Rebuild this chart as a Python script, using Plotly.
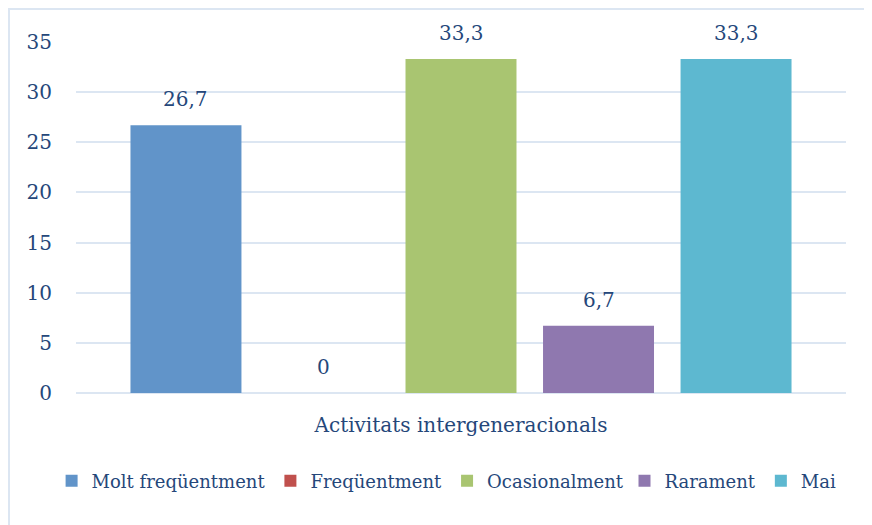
import plotly.graph_objects as go

category = ["Activitats intergeneracionals"]
series_names = ["Molt freqüentment", "Freqüentment", "Ocasionalment", "Rarament", "Mai"]
series_values = [26.7, 0, 33.3, 6.7, 33.3]
series_labels = ["26,7", "0", "33,3", "6,7", "33,3"]
series_colors = ["#6194C9", "#C0504D", "#A9C571", "#8F78AF", "#5DB8D0"]
y_ticks = [0, 5, 10, 15, 20, 25, 30, 35]

FONT = "DejaVu Serif"
TXT = "#25477A"
FS = 20
LFS = 18

L, R, T, B = 68, 34, 34, 140
W, H = 872, 525
PW, PH = W - L - R, H - T - B
BARGAP = 0.107

# two legend boxes side by side so that all entries stay on one row
legend_of = ["legend", "legend", "legend", "legend2", "legend2"]

fig = go.Figure()
for name, val, col, lg in zip(series_names, series_values, series_colors, legend_of):
    fig.add_trace(go.Bar(
        x=category, y=[val], name=name, legend=lg,
        marker=dict(color=col, line=dict(width=0)),
    ))

# value labels above each bar of the group
n = len(series_values)
slot = (1 - BARGAP) / n
annotations = []
for i, (val, lab) in enumerate(zip(series_values, series_labels)):
    annotations.append(dict(
        x=(i - (n - 1) / 2) * slot, y=val, xref="x", yref="y",
        text=lab, showarrow=False, yanchor="middle", yshift=26,
        font=dict(family=FONT, size=FS, color=TXT),
    ))

legend_common = dict(orientation="h", xref="container", yref="container",
                     xanchor="left", y=1 - 473 / H, yanchor="middle",
                     font=dict(family=FONT, size=LFS, color=TXT),
                     itemwidth=30, tracegroupgap=0, bgcolor="rgba(0,0,0,0)")

fig.update_layout(
    width=W, height=H,
    margin=dict(l=L, r=R, t=T, b=B, autoexpand=False),
    paper_bgcolor="white", plot_bgcolor="white",
    barmode="group", bargap=BARGAP, bargroupgap=0.193,
    font=dict(family=FONT, size=FS, color=TXT),
    showlegend=True,
    legend=dict(x=0.05, **legend_common),
    legend2=dict(x=0.707, **legend_common),
    xaxis=dict(showgrid=False, showline=False, ticks="", ticklabelstandoff=18,
               range=[-0.5, 0.5],
               tickfont=dict(family=FONT, size=FS, color=TXT)),
    yaxis=dict(range=[0, 35], tickvals=y_ticks, showgrid=True, gridcolor="#DCE6F2", gridwidth=2,
               zeroline=True, zerolinecolor="#DCE6F2", zerolinewidth=2,
               ticks="", ticklabelstandoff=23,
               tickfont=dict(family=FONT, size=FS, color=TXT)),
    annotations=annotations,
    shapes=[
        dict(type="rect", xref="paper", yref="paper",
             x0=-L / PW + 1 / PW, x1=1 + R / PW - 1 / PW,
             y0=-B / PH + 1 / PH, y1=1 + T / PH - 1 / PH,
             line=dict(color="#DCE6F2", width=2), fillcolor="rgba(0,0,0,0)", layer="below"),
    ],
)

fig.write_html("out.html")
